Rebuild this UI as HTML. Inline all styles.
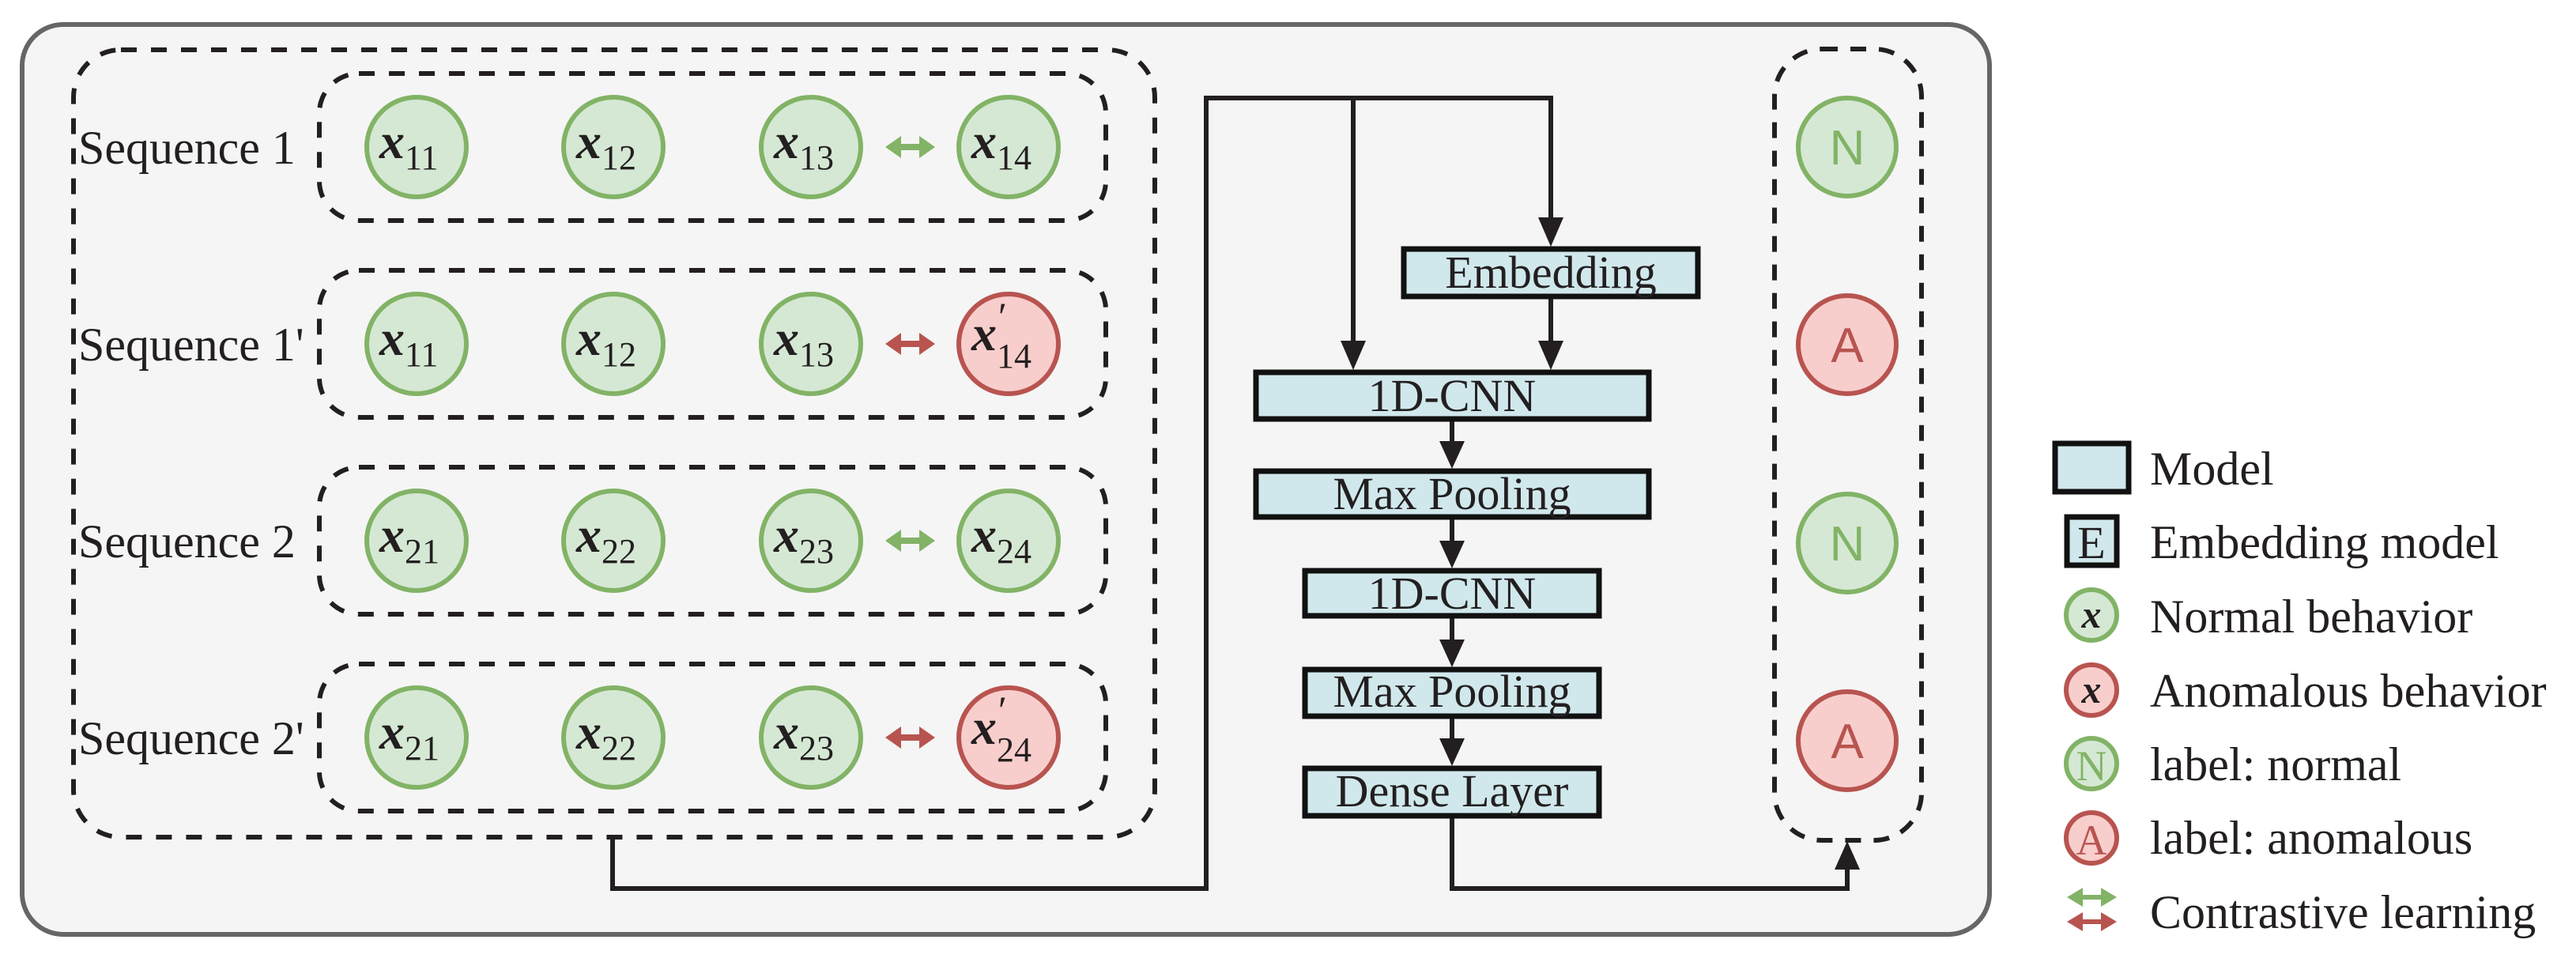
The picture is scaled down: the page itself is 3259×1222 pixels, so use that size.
<!DOCTYPE html>
<html><head><meta charset="utf-8"><style>
html,body{margin:0;padding:0;background:#fff;}
svg{display:block;}
.s{font-family:"Liberation Serif",serif;fill:#231f20;}
.m{font-family:"Liberation Serif",serif;font-style:italic;font-weight:bold;fill:#231f20;}
.n{font-family:"Liberation Serif",serif;fill:#231f20;}
</style></head><body>
<svg width="3259" height="1222" viewBox="0 0 3259 1222" xmlns="http://www.w3.org/2000/svg">
<rect x="28" y="31" width="2489" height="1151" rx="52" fill="#f5f5f5" stroke="#666" stroke-width="6"/>
<rect x="93" y="63" width="1368" height="996" rx="60" fill="none" stroke="#231f20" stroke-width="6" stroke-dasharray="20 18"/>
<g fill="none" stroke="#231f20" stroke-width="6" stroke-dasharray="20 18">
<rect x="404" y="93" width="995" height="186" rx="50"/>
<rect x="404" y="342" width="995" height="186" rx="50"/>
<rect x="404" y="591" width="995" height="186" rx="50"/>
<rect x="404" y="840" width="995" height="186" rx="50"/>
</g>
<g class="s" font-size="60">
<text x="99" y="207">Sequence 1</text>
<text x="99" y="456">Sequence 1'</text>
<text x="99" y="705">Sequence 2</text>
<text x="99" y="954">Sequence 2'</text>
</g>
<g stroke-width="6">
<g fill="#d5e8d4" stroke="#82b366">
<circle cx="527" cy="186" r="63"/><circle cx="776" cy="186" r="63"/><circle cx="1026" cy="186" r="63"/><circle cx="1276" cy="186" r="63"/>
<circle cx="527" cy="435" r="63"/><circle cx="776" cy="435" r="63"/><circle cx="1026" cy="435" r="63"/>
<circle cx="527" cy="684" r="63"/><circle cx="776" cy="684" r="63"/><circle cx="1026" cy="684" r="63"/><circle cx="1276" cy="684" r="63"/>
<circle cx="527" cy="933" r="63"/><circle cx="776" cy="933" r="63"/><circle cx="1026" cy="933" r="63"/>
</g>
<g fill="#f8cecc" stroke="#b85450">
<circle cx="1276" cy="435" r="63"/><circle cx="1276" cy="933" r="63"/>
</g>
</g>
<g class="m" font-size="64">
<text x="480" y="200">x<tspan font-size="44" font-style="normal" font-weight="normal" dy="14">11</tspan></text>
<text x="729" y="200">x<tspan font-size="44" font-style="normal" font-weight="normal" dy="14">12</tspan></text>
<text x="979" y="200">x<tspan font-size="44" font-style="normal" font-weight="normal" dy="14">13</tspan></text>
<text x="1229" y="200">x<tspan font-size="44" font-style="normal" font-weight="normal" dy="14">14</tspan></text>
<text x="480" y="449">x<tspan font-size="44" font-style="normal" font-weight="normal" dy="14">11</tspan></text>
<text x="729" y="449">x<tspan font-size="44" font-style="normal" font-weight="normal" dy="14">12</tspan></text>
<text x="979" y="449">x<tspan font-size="44" font-style="normal" font-weight="normal" dy="14">13</tspan></text>
<text x="1229" y="443">x<tspan font-size="44" font-style="normal" font-weight="normal" dy="22">14</tspan><tspan font-size="50" font-style="normal" font-weight="normal" dx="-42" dy="-48">′</tspan></text>
<text x="480" y="698">x<tspan font-size="44" font-style="normal" font-weight="normal" dy="14">21</tspan></text>
<text x="729" y="698">x<tspan font-size="44" font-style="normal" font-weight="normal" dy="14">22</tspan></text>
<text x="979" y="698">x<tspan font-size="44" font-style="normal" font-weight="normal" dy="14">23</tspan></text>
<text x="1229" y="698">x<tspan font-size="44" font-style="normal" font-weight="normal" dy="14">24</tspan></text>
<text x="480" y="947">x<tspan font-size="44" font-style="normal" font-weight="normal" dy="14">21</tspan></text>
<text x="729" y="947">x<tspan font-size="44" font-style="normal" font-weight="normal" dy="14">22</tspan></text>
<text x="979" y="947">x<tspan font-size="44" font-style="normal" font-weight="normal" dy="14">23</tspan></text>
<text x="1229" y="941">x<tspan font-size="44" font-style="normal" font-weight="normal" dy="22">24</tspan><tspan font-size="50" font-style="normal" font-weight="normal" dx="-42" dy="-48">′</tspan></text>
</g>
<path d="M1120 186 L1140 172 L1140 182 L1163 182 L1163 172 L1183 186 L1163 200 L1163 190 L1140 190 L1140 200 Z" fill="#82b366"/>
<path d="M1120 435 L1140 421 L1140 431 L1163 431 L1163 421 L1183 435 L1163 449 L1163 439 L1140 439 L1140 449 Z" fill="#b85450"/>
<path d="M1120 684 L1140 670 L1140 680 L1163 680 L1163 670 L1183 684 L1163 698 L1163 688 L1140 688 L1140 698 Z" fill="#82b366"/>
<path d="M1120 933 L1140 919 L1140 929 L1163 929 L1163 919 L1183 933 L1163 947 L1163 937 L1140 937 L1140 947 Z" fill="#b85450"/>
<g fill="none" stroke="#231f20" stroke-width="6">
<polyline points="775,1062 775,1124 1526,1124 1526,124 1962,124 1962,280"/>
<line x1="1712" y1="124" x2="1712" y2="436"/>
<line x1="1962" y1="377" x2="1962" y2="436"/>
<line x1="1837" y1="532" x2="1837" y2="562"/>
<line x1="1837" y1="656" x2="1837" y2="688"/>
<line x1="1837" y1="781" x2="1837" y2="813"/>
<line x1="1837" y1="908" x2="1837" y2="938"/>
<polyline points="1837,1034 1837,1124 2337,1124 2337,1095"/>
</g>
<g fill="#231f20">
<path d="M1946 275 L1978 275 L1962 312 Z"/>
<path d="M1696 431 L1728 431 L1712 468 Z"/>
<path d="M1946 431 L1978 431 L1962 468 Z"/>
<path d="M1821 558 L1853 558 L1837 593 Z"/>
<path d="M1821 684 L1853 684 L1837 719 Z"/>
<path d="M1821 809 L1853 809 L1837 844 Z"/>
<path d="M1821 934 L1853 934 L1837 969 Z"/>
<path d="M2321 1100 L2353 1100 L2337 1064 Z"/>
</g>
<g fill="#d0e8ec" stroke="#111" stroke-width="7">
<rect x="1776" y="315" width="372" height="60"/>
<rect x="1589" y="471" width="497" height="59"/>
<rect x="1589" y="596" width="497" height="58"/>
<rect x="1651" y="722" width="372" height="57"/>
<rect x="1651" y="847" width="372" height="59"/>
<rect x="1651" y="972" width="372" height="60"/>
</g>
<g class="n" font-size="58" text-anchor="middle">
<text x="1962" y="364">Embedding</text>
<text x="1837" y="520">1D-CNN</text>
<text x="1837" y="644">Max Pooling</text>
<text x="1837" y="770">1D-CNN</text>
<text x="1837" y="894">Max Pooling</text>
<text x="1837" y="1020">Dense Layer</text>
</g>
<rect x="2245" y="62" width="186" height="1001" rx="60" fill="none" stroke="#231f20" stroke-width="6" stroke-dasharray="20 16"/>
<g stroke-width="6">
<circle cx="2337" cy="186" r="62" fill="#d5e8d4" stroke="#82b366"/>
<circle cx="2337" cy="436" r="62" fill="#f8cecc" stroke="#b85450"/>
<circle cx="2337" cy="687" r="62" fill="#d5e8d4" stroke="#82b366"/>
<circle cx="2337" cy="937" r="62" fill="#f8cecc" stroke="#b85450"/>
</g>
<g font-family="Liberation Sans, sans-serif" font-size="62" text-anchor="middle">
<text x="2337" y="208" fill="#82b366">N</text>
<text x="2337" y="458" fill="#b85450">A</text>
<text x="2337" y="709" fill="#82b366">N</text>
<text x="2337" y="959" fill="#b85450">A</text>
</g>
<rect x="2600" y="561" width="93" height="61" fill="#d0e8ec" stroke="#111" stroke-width="7"/>
<rect x="2615" y="654" width="63" height="61" fill="#d0e8ec" stroke="#111" stroke-width="7"/>
<text x="2646" y="706" class="n" font-size="58" text-anchor="middle">E</text>
<circle cx="2646" cy="778" r="32" fill="#d5e8d4" stroke="#82b366" stroke-width="6"/>
<text x="2646" y="794" class="m" font-size="50" text-anchor="middle">x</text>
<circle cx="2646" cy="873" r="32" fill="#f8cecc" stroke="#b85450" stroke-width="6"/>
<text x="2646" y="889" class="m" font-size="50" text-anchor="middle">x</text>
<circle cx="2646" cy="966" r="32" fill="#d5e8d4" stroke="#82b366" stroke-width="6"/>
<text x="2646" y="987" font-family="Liberation Serif, serif" font-size="54" fill="#82b366" text-anchor="middle">N</text>
<circle cx="2646" cy="1060" r="32" fill="#f8cecc" stroke="#b85450" stroke-width="6"/>
<text x="2646" y="1081" font-family="Liberation Serif, serif" font-size="54" fill="#b85450" text-anchor="middle">A</text>
<path d="M2615 1135 L2635 1123 L2635 1132 L2658 1132 L2658 1123 L2678 1135 L2658 1147 L2658 1138 L2635 1138 L2635 1147 Z" fill="#82b366"/>
<path d="M2615 1166 L2635 1154 L2635 1163 L2658 1163 L2658 1154 L2678 1166 L2658 1178 L2658 1169 L2635 1169 L2635 1178 Z" fill="#b85450"/>
<g class="s" font-size="60">
<text x="2720" y="613">Model</text>
<text x="2720" y="706">Embedding model</text>
<text x="2720" y="800">Normal behavior</text>
<text x="2720" y="894">Anomalous behavior</text>
<text x="2720" y="987">label: normal</text>
<text x="2720" y="1080">label: anomalous</text>
<text x="2720" y="1174">Contrastive learning</text>
</g>
</svg>
</body></html>
